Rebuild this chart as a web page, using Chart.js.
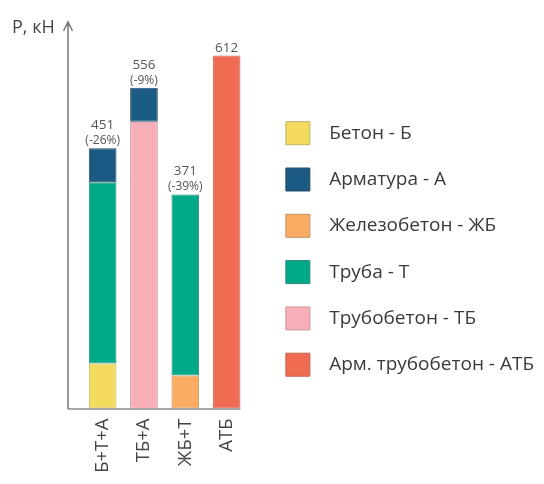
<!DOCTYPE html>
<html>
<head>
<meta charset="utf-8">
<script src="https://cdn.jsdelivr.net/npm/chart.js@4"></script>
<style>
    html, body { margin: 0; padding: 0; background: #fff; }
    #wrap { width: 544px; height: 484px; }
</style>
</head>
<body>
<div id="wrap"><canvas id="chart" width="544" height="484"></canvas></div>
<script>
// categories (bottom axis)
const categories = ['Б+Т+А', 'ТБ+А', 'ЖБ+Т', 'АТБ'];

// stacked segments, kN (bottom segment first)
const beton = [78, null, null, null];
const zhelezobeton = [null, null, 57, null];
const trubobeton = [null, 497, null, null];
const truba = [314, null, 314, null];
const armatura = [59, 59, null, null];
const armTrubobeton = [null, null, null, 612];

// difference vs АТБ, shown under totals
const diffLabels = ['(-26%)', '(-9%)', '(-39%)', ''];

const legendOrder = ['Бетон - Б', 'Арматура - А', 'Железобетон - ЖБ', 'Труба - Т', 'Трубобетон - ТБ', 'Арм. трубобетон - АТБ'];

const FONT = "'Open Sans', 'DejaVu Sans', sans-serif";

// legend geometry
const LEGEND_SIZE = 19;
const LEGEND_PAD = 23.3;
const LEGEND_BOX = 24;
const LEGEND_LEFT = 264;
const LEGEND_INDENT = '  '; // extra gap between swatch and text

// legend width is what chart.js will compute: pad + box + size/2 + text + 10
const measure = document.createElement('canvas').getContext('2d');
measure.font = LEGEND_SIZE + 'px ' + FONT;
const longest = Math.max(...legendOrder.map(t => measure.measureText(LEGEND_INDENT + t).width));
const legendWidth = LEGEND_PAD + LEGEND_BOX + LEGEND_SIZE / 2 + longest + 10;
const padRight = Math.max(0, 544 - LEGEND_LEFT - legendWidth);

function dataset(label, data, color, edge) {
    return {
        label: label,
        data: data,
        backgroundColor: color,
        borderColor: edge,
        borderWidth: 1,
        borderSkipped: false
    };
}

// axis lines with arrow, y title and value labels
const annotate = {
    id: 'annotate',
    afterDatasetsDraw(chart) {
        const ctx = chart.ctx;
        const area = chart.chartArea;
        const axisX = area.left - 14;
        const bottom = area.bottom + 0.5;

        // right edge of the last bar
        let lastRight = area.right;
        const lastMeta = chart.getDatasetMeta(chart.data.datasets.length - 1);
        const lastBar = lastMeta.data[categories.length - 1];
        if (lastBar) lastRight = lastBar.x + lastBar.width / 2;

        ctx.save();
        ctx.strokeStyle = '#8a8a8a';
        ctx.lineWidth = 1.5;
        ctx.beginPath();
        ctx.moveTo(axisX, bottom);
        ctx.lineTo(lastRight, bottom);
        ctx.stroke();

        ctx.strokeStyle = '#777';
        ctx.beginPath();
        ctx.moveTo(axisX, bottom);
        ctx.lineTo(axisX, area.top);
        ctx.moveTo(axisX - 4.5, area.top + 9);
        ctx.lineTo(axisX, area.top);
        ctx.lineTo(axisX + 4.5, area.top + 9);
        ctx.stroke();

        ctx.fillStyle = '#444';
        ctx.font = '18px ' + FONT;
        ctx.textAlign = 'left';
        ctx.textBaseline = 'alphabetic';
        ctx.fillText('P, кН', 12, 33);

        // totals above each stack
        ctx.fillStyle = '#555';
        ctx.textAlign = 'center';
        categories.forEach((cat, i) => {
            let total = 0;
            let topBar = null;
            chart.data.datasets.forEach((ds, d) => {
                const v = ds.data[i];
                if (v !== null && v !== undefined) {
                    total += v;
                    topBar = chart.getDatasetMeta(d).data[i];
                }
            });
            if (!topBar) return;
            if (diffLabels[i]) {
                ctx.font = '12px ' + FONT;
                ctx.fillText(diffLabels[i], topBar.x, topBar.y - 4);
                ctx.font = '13.5px ' + FONT;
                ctx.fillText(String(total), topBar.x, topBar.y - 19);
            } else {
                ctx.font = '13.5px ' + FONT;
                ctx.fillText(String(total), topBar.x, topBar.y - 3);
            }
        });
        ctx.restore();
    }
};

const ctx = document.getElementById('chart').getContext('2d');
const chart = new Chart(ctx, {
    type: 'bar',
    data: {
        labels: categories,
        datasets: [
            dataset('Бетон - Б', beton, '#F3DB60', '#C2B165'),
            dataset('Железобетон - ЖБ', zhelezobeton, '#FAAC62', '#C99266'),
            dataset('Трубобетон - ТБ', trubobeton, '#F7AEB7', '#C8979D'),
            dataset('Труба - Т', truba, '#00A987', '#2E8A76'),
            dataset('Арматура - А', armatura, '#1B5A82', '#2A4F68'),
            dataset('Арм. трубобетон - АТБ', armTrubobeton, '#EF6B51', '#BF6452')
        ]
    },
    options: {
        responsive: false,
        animation: false,
        devicePixelRatio: 1,
        layout: {
            padding: { top: 22, left: 82, right: padRight, bottom: 8.1 }
        },
        datasets: {
            bar: { barPercentage: 0.67, categoryPercentage: 1 }
        },
        scales: {
            x: {
                stacked: true,
                grid: { display: false, drawTicks: false },
                border: { display: false },
                ticks: {
                    minRotation: 90,
                    maxRotation: 90,
                    padding: 10,
                    color: '#444',
                    font: { family: FONT, size: 18.5 }
                },
                afterFit: (scale) => { scale.height = 484 - 8.1 - 408.5; }
            },
            y: {
                // kept only as a spacer between bars and legend
                stacked: true,
                position: 'right',
                min: 0,
                max: 670,
                grid: { display: false },
                border: { display: false },
                ticks: { display: false },
                afterFit: (scale) => { scale.width = 15.3; }
            }
        },
        plugins: {
            legend: {
                position: 'right',
                align: 'center',
                maxWidth: 400,
                labels: {
                    boxWidth: LEGEND_BOX,
                    boxHeight: 23,
                    padding: LEGEND_PAD,
                    color: '#3a3a3a',
                    font: { family: FONT, size: LEGEND_SIZE },
                    generateLabels: (chart) => {
                        const items = Chart.defaults.plugins.legend.labels.generateLabels(chart);
                        items.sort((a, b) => legendOrder.indexOf(a.text) - legendOrder.indexOf(b.text));
                        items.forEach(item => { item.text = LEGEND_INDENT + item.text; });
                        return items;
                    }
                }
            },
            tooltip: { enabled: false }
        }
    },
    plugins: [annotate]
});
</script>
</body>
</html>
